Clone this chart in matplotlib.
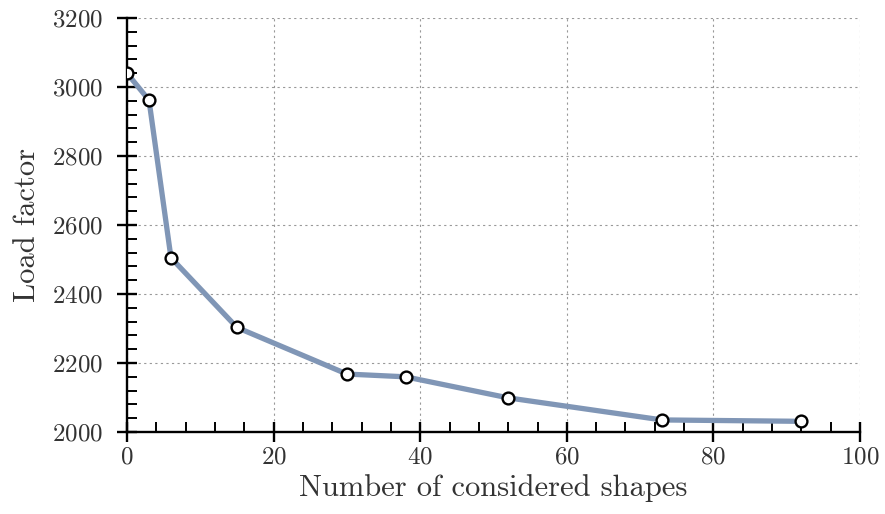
import matplotlib
matplotlib.use("Agg")
import matplotlib.pyplot as plt
from matplotlib.ticker import MultipleLocator

shapes = [0, 3, 6, 15, 30, 38, 52, 73, 92]
load_factor = [3040, 2962, 2505, 2303, 2168, 2160, 2099, 2035, 2031]

plt.rcParams['font.family'] = ['cmr10', 'DejaVu Serif']
plt.rcParams['axes.formatter.use_mathtext'] = True
plt.rcParams['mathtext.fontset'] = 'cm'

fig = plt.figure(figsize=(8.85, 5.14), dpi=100)
ax = fig.add_axes([0.1435, 0.1595, 0.8283, 0.8055])

ax.plot(shapes, load_factor, color='#8096b6', lw=3.8, solid_capstyle='round', zorder=3)
ax.plot(shapes, load_factor, ls='none', marker='o', ms=8.5, mfc='white', mec='black', mew=1.7, zorder=4)

ax.set_xlim(0, 100)
ax.set_ylim(2000, 3200)
ax.xaxis.set_major_locator(MultipleLocator(20))
ax.xaxis.set_minor_locator(MultipleLocator(4))
ax.yaxis.set_major_locator(MultipleLocator(200))
ax.yaxis.set_minor_locator(MultipleLocator(40))

for s in ['top', 'right']:
    ax.spines[s].set_visible(False)
for s in ['left', 'bottom']:
    ax.spines[s].set_linewidth(1.7)

ax.tick_params(which='major', direction='inout', length=14, width=1.7, labelsize=18, colors='black')
ax.tick_params(which='minor', direction='in', length=7, width=1.4)
ax.tick_params(axis='x', which='major', pad=3)
ax.tick_params(axis='y', which='major', pad=10)
for lab in ax.get_xticklabels() + ax.get_yticklabels():
    lab.set_color('#333333')

ax.grid(True, which='major', ls=(0, (2, 3)), color='#999999', lw=0.8)
ax.set_axisbelow(True)

ax.set_xlabel('Number of considered shapes', fontsize=22, labelpad=4, color='#333333')
ax.set_ylabel('Load factor', fontsize=22, labelpad=8, color='#333333')

fig.savefig('out.png', dpi=100)
